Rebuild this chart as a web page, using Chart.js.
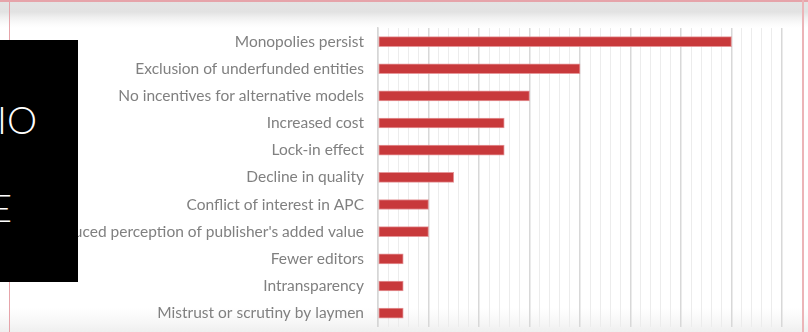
<!DOCTYPE html>
<html>
<head>
<meta charset="utf-8">
<script src="https://cdn.jsdelivr.net/npm/chart.js@4"></script>
<style>
  html, body { margin: 0; padding: 0; background: #fff; overflow: hidden; }
  #wrap { position: relative; width: 808px; height: 332px; overflow: hidden; }
  #band { position: absolute; left: 0; top: 0; width: 808px; height: 28px;
    background: linear-gradient(#e4e4e4 0px, #e2e2e2 12px, #f1f1f1 18px, #fbfbfb 24px, #fff 28px); }
  #bandBottom { position: absolute; left: 0; top: 308px; width: 808px; height: 24px;
    background: linear-gradient(#fff, #f7f7f7 14px, #efefef); }
  #topLine { position: absolute; left: 0; top: 0; width: 808px; height: 2px; background: #e6a4aa; }
  #leftLine { position: absolute; left: 9px; top: 0; width: 1px; height: 332px; background: #e6a4aa; }
  #rightLine { position: absolute; left: 802px; top: 0; width: 2px; height: 332px; background: #ecb4b8; }
  canvas { position: absolute; left: 0; top: 0; }
  #box { position: absolute; left: 0; top: 40px; width: 78px; height: 242px; background: #000;
    overflow: hidden; z-index: 5; }
  .big { position: absolute; color: #fff; font-family: Lato, "Open Sans", sans-serif; font-weight: 300;
    font-size: 38px; line-height: 38px; white-space: nowrap; }
</style>
</head>
<body>
<div id="wrap">
  <div id="band"></div>
  <div id="bandBottom"></div>
  <div id="topLine"></div>
  <div id="leftLine"></div>
  <div id="rightLine"></div>
  <canvas id="chart" width="808" height="350"></canvas>
  <div id="box">
    <div class="big" style="right:41px; top:60px;">IO</div>
    <div class="big" style="right:66px; top:148px;">E</div>
  </div>
</div>
<script>
const categories = [
  'Monopolies persist',
  'Exclusion of underfunded entities',
  'No incentives for alternative models',
  'Increased cost',
  'Lock-in effect',
  'Decline in quality',
  'Conflict of interest in APC',
  'Reduced perception of publisher\'s added value',
  'Fewer editors',
  'Intransparency',
  'Mistrust or scrutiny by laymen'
];
const counts = [14, 8, 6, 5, 5, 3, 2, 2, 1, 1, 1];
const axisMax = 16;

const isMajor = v => Math.abs(v / 2 - Math.round(v / 2)) < 1e-6;

new Chart(document.getElementById('chart'), {
  type: 'bar',
  data: {
    labels: categories,
    datasets: [{
      data: counts,
      backgroundColor: '#c8393b',
      borderColor: 'rgba(226,140,142,0.9)',
      borderWidth: 1,
      borderSkipped: false,
      barThickness: 10
    }]
  },
  options: {
    indexAxis: 'y',
    responsive: false,
    animation: false,
    layout: { padding: { top: 28, bottom: 3, right: 26, left: 0 } },
    plugins: { legend: { display: false }, tooltip: { enabled: false } },
    scales: {
      x: {
        min: 0,
        max: axisMax,
        ticks: { display: false, stepSize: 0.4 },
        grid: {
          drawTicks: false,
          color: ctx => isMajor(ctx.tick.value) ? '#d8d8d8' : '#ececec',
          lineWidth: ctx => isMajor(ctx.tick.value) ? 1.5 : 1
        },
        border: { display: false },
        afterFit: scale => { scale.height = 0; }
      },
      y: {
        ticks: {
          color: '#808080',
          padding: 14,
          font: { family: 'Lato, "Open Sans", sans-serif', size: 15.5 }
        },
        grid: { display: false, drawTicks: false },
        border: { display: true, color: '#d6d6d6', width: 1.5 },
        afterFit: scale => { scale.width = 378; }
      }
    }
  }
});
</script>
</body>
</html>
